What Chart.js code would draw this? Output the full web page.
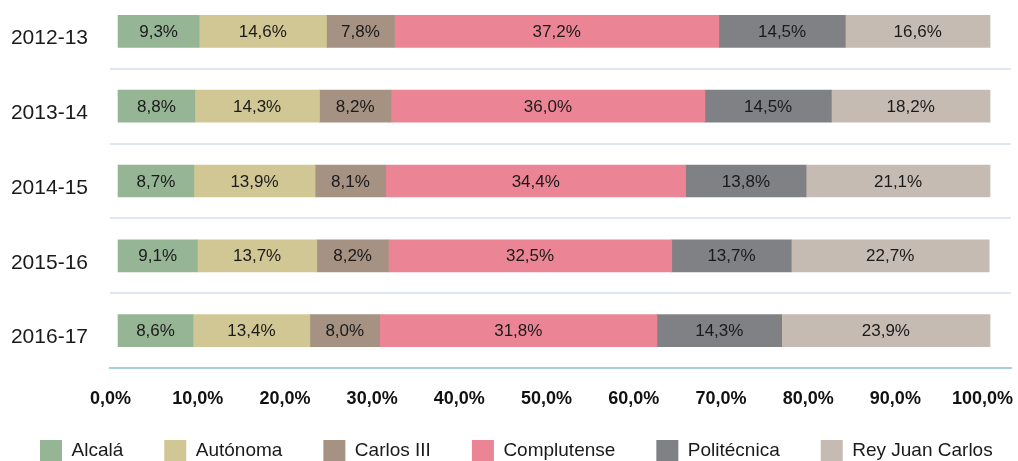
<!DOCTYPE html>
<html>
<head>
<meta charset="utf-8">
<script src="https://cdn.jsdelivr.net/npm/chart.js@4/dist/chart.umd.min.js"></script>
<style>
  html, body { margin: 0; padding: 0; background: #fff; overflow: hidden; }
  /* the first row band starts just above the picture, so the canvas does too */
  #wrap { width: 1018px; height: 467px; margin-top: -6px; }
</style>
</head>
<body>
<div id="wrap"><canvas id="chart"></canvas></div>
<script>
// academic years (one bar each)
const years = ['2012-13', '2013-14', '2014-15', '2015-16', '2016-17'];

// share of each university per year (%)
const alcala      = [9.3, 8.8, 8.7, 9.1, 8.6];
const autonoma    = [14.6, 14.3, 13.9, 13.7, 13.4];
const carlosIII   = [7.8, 8.2, 8.1, 8.2, 8.0];
const complutense = [37.2, 36.0, 34.4, 32.5, 31.8];
const politecnica = [14.5, 14.5, 13.8, 13.7, 14.3];
const reyJuan     = [16.6, 18.2, 21.1, 22.7, 23.9];

const xTicks = [0, 10, 20, 30, 40, 50, 60, 70, 80, 90, 100];

const FONT = '"Liberation Sans", Arial, sans-serif';

const fmt = v => v.toFixed(1).replace('.', ',') + '%';

// draws the value in the middle of every segment
const segmentLabels = {
    id: 'segmentLabels',
    afterDatasetsDraw(chart) {
        const ctx = chart.ctx;
        ctx.save();
        ctx.font = '17px ' + FONT;
        ctx.fillStyle = '#1a1a1a';
        ctx.textAlign = 'center';
        ctx.textBaseline = 'middle';
        chart.data.datasets.forEach((ds, i) => {
            const meta = chart.getDatasetMeta(i);
            meta.data.forEach((bar, j) => {
                const cx = (bar.x + bar.base) / 2;
                ctx.fillText(fmt(ds.data[j]), cx, bar.y + 1);
            });
        });
        ctx.restore();
    }
};

// legend: one row, pushed a bit lower than the layout would put it
const legendPlacement = {
    id: 'legendPlacement',
    afterInit(chart) {
        const lg = chart.legend;
        if (!lg) return;
        const orig = lg.fit.bind(lg);
        lg.fit = function () {
            orig();
            this.height = 51;
        };
    },
    afterLayout(chart) {
        const lg = chart.legend;
        if (!lg) return;
        lg.top -= 11;
        lg.left = -1;
        lg.right = 5000;
    }
};

function makeSet(label, data, color) {
    return {
        label: label,
        data: data,
        backgroundColor: color,
        borderWidth: 0,
        barThickness: 32
    };
}

new Chart(document.getElementById('chart'), {
    type: 'bar',
    data: {
        labels: years,
        datasets: [
            makeSet('Alcalá', alcala, '#95b595'),
            makeSet('Autónoma', autonoma, '#d1c794'),
            makeSet('Carlos III', carlosIII, '#a59282'),
            makeSet('Complutense', complutense, '#eb8495'),
            makeSet('Politécnica', politecnica, '#808185'),
            makeSet('Rey Juan Carlos', reyJuan, '#c6bbb2')
        ]
    },
    options: {
        indexAxis: 'y',
        responsive: true,
        maintainAspectRatio: false,
        animation: false,
        layout: {
            padding: { left: 0, right: 7, top: 0, bottom: 0 }
        },
        scales: {
            x: {
                stacked: true,
                min: -0.92,
                max: 102.4,
                afterBuildTicks: scale => {
                    scale.ticks = xTicks.map(v => ({ value: v }));
                },
                afterFit: scale => {
                    scale.height = 42;
                    scale.paddingLeft = 0;
                    scale.paddingRight = 0;
                },
                grid: { display: false, drawTicks: false },
                border: { display: true, color: '#a6cfe2', width: 2 },
                ticks: {
                    padding: 20,
                    labelOffset: -7.5,
                    maxRotation: 0,
                    autoSkip: false,
                    color: '#111',
                    font: { family: FONT, size: 18, weight: 'bold' },
                    callback: v => fmt(v)
                }
            },
            y: {
                stacked: true,
                afterFit: scale => {
                    scale.width = 110;
                    scale.paddingTop = 0;
                    scale.paddingBottom = 0;
                },
                grid: {
                    offset: true,
                    drawTicks: false,
                    color: '#dde8f2',
                    lineWidth: 2
                },
                border: { display: false },
                ticks: {
                    padding: 22,
                    labelOffset: 7,
                    color: '#1a1a1a',
                    font: { family: FONT, size: 21 }
                }
            }
        },
        plugins: {
            legend: {
                position: 'bottom',
                align: 'start',
                labels: {
                    boxWidth: 22,
                    boxHeight: 22,
                    padding: 41,
                    color: '#1a1a1a',
                    font: { family: FONT, size: 19 }
                }
            },
            tooltip: { enabled: false }
        }
    },
    plugins: [segmentLabels, legendPlacement]
});
</script>
</body>
</html>
